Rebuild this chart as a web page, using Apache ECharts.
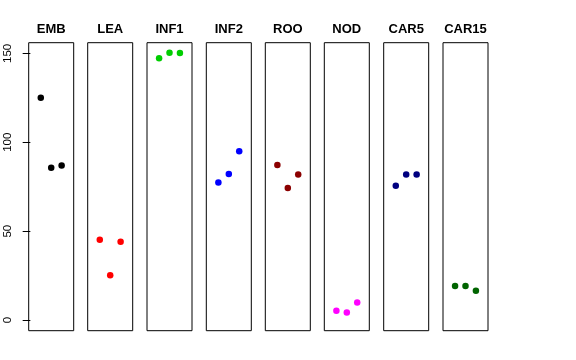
<!DOCTYPE html>
<html>
<head>
<meta charset="utf-8">
<script src="https://cdn.jsdelivr.net/npm/echarts@6/dist/echarts.min.js"></script>
<style>html,body{margin:0;padding:0;background:#fff}#c{width:576px;height:360px}</style>
</head>
<body>
<div id="c"></div>
<script>
var categories = ['EMB', 'LEA', 'INF1', 'INF2', 'ROO', 'NOD', 'CAR5', 'CAR15'];
var positions = [1, 2, 3];
var EMB = [125.0, 85.7, 86.9];
var LEA = [45.2, 25.2, 44.0];
var INF1 = [147.2, 150.4, 150.2];
var INF2 = [77.4, 82.1, 94.9];
var ROO = [87.2, 74.2, 81.8];
var NOD = [5.2, 4.3, 9.9];
var CAR5 = [75.6, 81.9, 81.9];
var CAR15 = [19.2, 19.2, 16.5];
var seriesValues = [EMB, LEA, INF1, INF2, ROO, NOD, CAR5, CAR15];
var colors = ['#000000', '#FF0000', '#00CD00', '#0000FF', '#8B0000', '#FF00FF', '#000080', '#006400'];
var yTicks = [0, 50, 100, 150];

var chart = echarts.init(document.getElementById('c'), null, {renderer: 'canvas'});
var lefts = [28.7, 87.7, 147, 206.3, 265.3, 324.3, 383.7, 443];
var pw = 45, top0 = 42.7, ph = 288;
var grids = [], xAxes = [], yAxes = [], series = [], graphics = [];
categories.forEach(function (cat, i) {
  grids.push({left: lefts[i], top: top0, width: pw, height: ph, show: true,
    borderColor: '#000', borderWidth: 1, backgroundColor: 'transparent', containLabel: false});
  xAxes.push({type: 'value', gridIndex: i, min: -0.16, max: 4.16, show: false});
  yAxes.push({type: 'value', gridIndex: i, min: -6, max: 156, show: i === 0,
    splitLine: {show: false},
    axisLine: {show: false},
    axisTick: {show: i === 0, length: 7.7, lineStyle: {color: '#000', width: 1}, customValues: yTicks},
    axisLabel: {show: i === 0, rotate: 90, customValues: yTicks, margin: 15,
      color: '#000', fontSize: 11.5, fontFamily: 'Liberation Sans, Arial, sans-serif'}
  });
  series.push({type: 'scatter', xAxisIndex: i, yAxisIndex: i, symbolSize: 6.5,
    itemStyle: {color: colors[i], opacity: 1}, silent: true,
    data: positions.map(function (p, k) { return [p, seriesValues[i][k]]; })});
  graphics.push({type: 'text', x: lefts[i] + pw / 2, y: 29,
    style: {text: cat, textAlign: 'center', textVerticalAlign: 'middle',
      font: 'bold 13px "Liberation Sans", Arial, sans-serif', fill: '#000'}});
});
chart.setOption({
  animation: false,
  grid: grids, xAxis: xAxes, yAxis: yAxes, series: series, graphic: graphics
});
</script>
</body>
</html>
